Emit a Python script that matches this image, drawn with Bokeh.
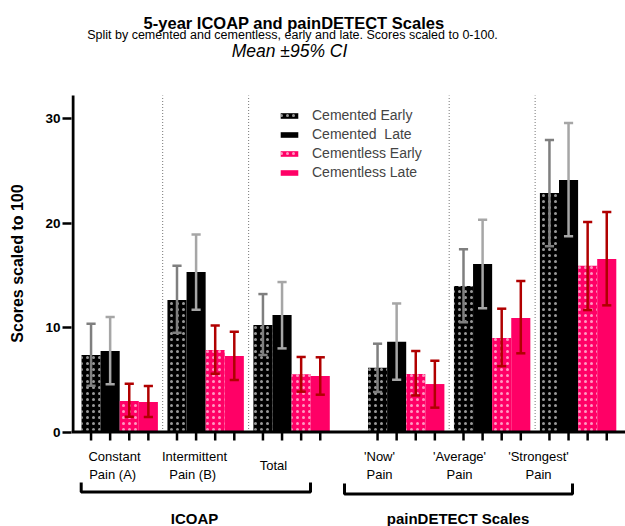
from bokeh.plotting import figure
from bokeh.models import (Range1d, FixedTicker, Legend, LegendItem, Span, ColumnDataSource)
from bokeh.core.properties import value
from bokeh.embed import file_html
from bokeh.resources import INLINE

# ---------------- data ----------------
categories = ["Constant\nPain  (A)", "Intermittent\nPain  (B)", "Total",
              "'Now'\nPain", "'Average'\nPain", "'Strongest'\nPain"]
families = ["ICOAP", "painDETECT Scales"]
series = ["Cemented Early", "Cemented  Late", "Cementless Early", "Cementless Late"]

ce_mean = [7.37, 12.63, 10.24, 6.15, 13.97, 22.87]
ce_lo = [4.43, 9.50, 7.37, 3.83, 10.50, 17.77]
ce_hi = [10.36, 15.90, 13.20, 8.45, 17.50, 27.94]

cl_mean = [7.75, 15.30, 11.20, 8.64, 16.08, 24.11]
cl_lo = [4.56, 11.70, 8.00, 5.00, 11.84, 18.73]
cl_hi = [11.00, 18.90, 14.35, 12.30, 20.30, 29.57]

xe_mean = [2.97, 7.85, 5.52, 5.55, 9.00, 15.90]
xe_lo = [1.47, 5.58, 3.86, 3.50, 6.30, 11.67]
xe_hi = [4.62, 10.20, 7.18, 7.75, 11.80, 20.10]

xl_mean = [2.87, 7.27, 5.36, 4.59, 10.90, 16.55]
xl_lo = [1.44, 4.98, 3.57, 2.33, 7.53, 12.12]
xl_hi = [4.40, 9.60, 7.15, 6.82, 14.45, 21.05]

y_ticks = [0, 10, 20, 30]

# ---------------- layout helpers ----------------
W, H = 625, 526
PX0, PXU = 81.0, 19.1      # page x of x=0, px per bar unit
PY0, PYU = 431.5, 10.45    # page y of y=0, px per score unit
FRAME_LEFT = 71

def dx(px):
    return (px - PX0) / PXU

def dy(py):
    return (PY0 - py) / PYU

group_start = [0, 4.5, 9, 15, 19.5, 24]   # layout (bar units)
BAR_W = 1.0
CAP = 0.24

FONT = value("Liberation Sans")
PINK = "#FF0066"

p = figure(width=W, height=H, output_backend="svg", toolbar_location=None,
           x_range=Range1d(dx(FRAME_LEFT), dx(W)), y_range=Range1d(dy(H), dy(0)),
           min_border_left=FRAME_LEFT, min_border_right=0, min_border_top=0, min_border_bottom=0)
p.outline_line_color = None
p.xgrid.visible = False
p.ygrid.visible = False
p.xaxis.visible = False

yax = p.yaxis[0]
yax.ticker = FixedTicker(ticks=y_ticks)
yax.axis_line_color = None
yax.major_tick_out = 9
yax.major_tick_in = 0
yax.minor_tick_line_color = None
yax.major_tick_line_width = 2.5
yax.major_tick_line_color = "black"
yax.major_label_text_font = "Liberation Sans"
yax.major_label_text_font_style = "bold"
yax.major_label_text_font_size = "13.5px"
yax.major_label_text_color = "black"
yax.major_label_standoff = 2
yax.axis_label = "Scores scaled to 100"
yax.axis_label_text_font = "Liberation Sans"
yax.axis_label_text_font_style = "bold"
yax.axis_label_text_font_size = "16px"
yax.axis_label_text_color = "black"
yax.axis_label_standoff = 16

# separators (dotted)
sep_x = [group_start[1] - 0.25, group_start[2] - 0.25, group_start[4] - 0.25, group_start[5] - 0.25]
p.segment(x0=sep_x, x1=sep_x, y0=[0] * 4, y1=[dy(95)] * 4,
          line_color="#777777", line_width=1, line_dash="1 2")

# bars
specs = [
    (ce_mean, ce_lo, ce_hi, "black", "dot", "#7f7f7f", series[0]),
    (cl_mean, cl_lo, cl_hi, "black", None, "#a6a6a6", series[1]),
    (xe_mean, xe_lo, xe_hi, PINK, "dot", "#b00000", series[2]),
    (xl_mean, xl_lo, xl_hi, PINK, None, "#b00000", series[3]),
]
items = []
all_centers = []
for k, (m, lo, hi, col, hatch, ecol, name) in enumerate(specs):
    xs = [g + 0.5 + k for g in group_start]
    all_centers += xs
    src = ColumnDataSource(dict(x=xs, top=m, lo=lo, hi=hi,
                                cl=[x - CAP for x in xs], cr=[x + CAP for x in xs]))
    if hatch:
        r = p.vbar(x="x", top="top", bottom=0, width=BAR_W, source=src,
                   fill_color=col, line_color=None,
                   hatch_pattern="dot", hatch_color="white", hatch_alpha=0.6,
                   hatch_scale=6, hatch_weight=1.0)
    else:
        r = p.vbar(x="x", top="top", bottom=0, width=BAR_W, source=src,
                   fill_color=col, line_color=None)
    items.append(LegendItem(label=name, renderers=[r]))
    p.segment(x0="x", x1="x", y0="lo", y1="hi", source=src, line_color=ecol, line_width=2.5)
    p.segment(x0="cl", x1="cr", y0="hi", y1="hi", source=src, line_color=ecol, line_width=2.5)
    p.segment(x0="cl", x1="cr", y0="lo", y1="lo", source=src, line_color=ecol, line_width=2.5)

# axes lines drawn manually
p.segment(x0=[dx(72.5)], x1=[dx(72.5)], y0=[0], y1=[dy(95)], line_color="black", line_width=3)
p.add_layout(Span(location=0, dimension="width", line_color="black", line_width=3))

# x ticks under each bar
p.segment(x0=all_centers, x1=all_centers, y0=[0] * len(all_centers),
          y1=[dy(440)] * len(all_centers), line_color="black", line_width=2.5)

# category labels
label_px = [114, 194, 273, 379, 459, 538]
p.text(x=[dx(v) for v in label_px], y=[dy(465)] * 6, text=categories,
       text_font=FONT, text_font_size="13px", text_align="center",
       text_baseline="middle", text_line_height=1.22, text_color="black")

# brackets
br = [(80.7, 310.0, 482.0, 491.5), (344.0, 572.0, 483.0, 493.5)]
for x0, x1, yt, yb in br:
    p.line(x=[dx(x0), dx(x0), dx(x1), dx(x1)], y=[dy(yt), dy(yb), dy(yb), dy(yt)],
           line_color="black", line_width=3)

p.text(x=[dx(194), dx(457.5)], y=[dy(517.5)] * 2, text=families,
       text_font=FONT, text_font_style="bold", text_font_size="15px",
       text_align="center", text_baseline="middle", text_color="black")

# titles
p.text(x=[dx(293.5)], y=[dy(22.5)], text=["5-year ICOAP and painDETECT Scales"],
       text_font=FONT, text_font_style="bold", text_font_size="16.5px",
       text_align="center", text_baseline="middle", text_color="black")
p.text(x=[dx(292)], y=[dy(34)],
       text=["Split by cemented and cementless, early and late. Scores scaled to 0-100."],
       text_font=FONT, text_font_size="12.5px",
       text_align="center", text_baseline="middle", text_color="black")
p.text(x=[dx(289)], y=[dy(50)], text=["Mean \u00b195% CI"],
       text_font=FONT, text_font_style="italic", text_font_size="17.5px",
       text_align="center", text_baseline="middle", text_color="black")

# legend
legend = Legend(items=items, location=(278 - FRAME_LEFT, H - 105.5 - 76),
                orientation="vertical", padding=0, margin=0, spacing=0,
                glyph_width=22, glyph_height=7, label_height=19,
                label_standoff=12, label_text_font="Liberation Sans",
                label_text_font_size="14px", border_line_color=None,
                background_fill_alpha=0)
p.add_layout(legend)

open("out.html", "w").write(file_html(p, INLINE))
